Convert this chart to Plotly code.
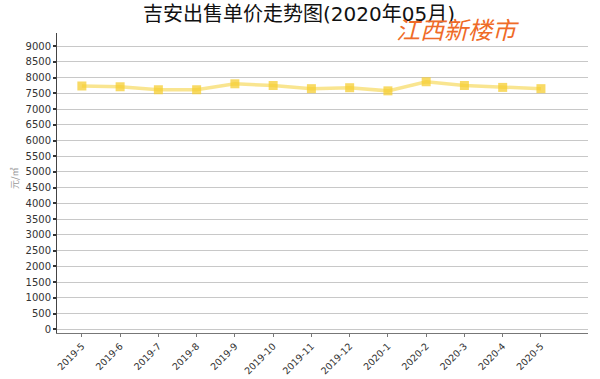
import plotly.graph_objects as go

months = ["2019-5", "2019-6", "2019-7", "2019-8", "2019-9", "2019-10", "2019-11",
          "2019-12", "2020-1", "2020-2", "2020-3", "2020-4", "2020-5"]
prices = [7735, 7710, 7615, 7615, 7805, 7750, 7650, 7680, 7580, 7870, 7750, 7690, 7650]
y_ticks = list(range(0, 9001, 500))

fig = go.Figure()
fig.add_trace(go.Scatter(
    x=list(range(len(months))), y=prices, mode="lines+markers",
    line=dict(color="rgba(245,212,70,0.6)", width=3.5),
    marker=dict(symbol="square", size=9, color="rgba(246,205,50,0.75)",
                line=dict(width=0)),
    hoverinfo="skip",
))

fig.update_layout(
    width=600, height=379,
    margin=dict(l=57, r=12, t=33, b=46, autoexpand=False),
    paper_bgcolor="white", plot_bgcolor="white",
    showlegend=False,
    font=dict(family="DejaVu Sans, Noto Sans CJK SC", color="#333", size=10),
    title=dict(text="吉安出售单价走势图(2020年05月)", x=299 / 600, xanchor="center",
               xref="container", yref="container",
               y=1 - 14 / 379, yanchor="middle",
               font=dict(size=20, color="#111", family="DejaVu Sans, Noto Sans CJK SC")),
    xaxis=dict(
        tickmode="array", tickvals=list(range(len(months))), ticktext=months,
        range=[-0.65, 13.23], tickangle=-45, showgrid=False, zeroline=False,
        showline=True, linecolor="#777", linewidth=1, automargin=False,
        ticks="outside", ticklen=3, tickcolor="#777",
        tickfont=dict(size=9.5, color="#333"),
    ),
    yaxis=dict(
        tickmode="array", tickvals=y_ticks, ticktext=[str(v) for v in y_ticks],
        range=[-120, 9420], showgrid=True, gridcolor="#c8c8c8", gridwidth=1,
        zeroline=False, showline=True, linecolor="#444", linewidth=1,
        automargin=False,
        ticks="outside", ticklen=3, tickwidth=2, tickcolor="#333",
        tickfont=dict(size=10, color="#333"),
    ),
)

fig.add_annotation(
    text="元/㎡", xref="paper", yref="paper", x=(15 - 57) / 531, y=(333 - 178) / 300,
    xanchor="center", yanchor="middle", showarrow=False, textangle=-90,
    font=dict(size=9, color="#999", family="Noto Sans CJK SC"),
)

fig.add_annotation(
    text="江西新楼市", xref="paper", yref="paper",
    x=(457 - 57) / 531, y=(333 - 29) / 300, xanchor="center", yanchor="middle",
    showarrow=False,
    font=dict(size=24, color="#ef6b28", family="Noto Sans CJK SC", style="italic"),
)

fig.write_html("out.html", config={"displayModeBar": False})

# remove the browser's default 8px body margin so the figure sits at the page origin
with open("out.html", encoding="utf-8") as f:
    html = f.read()
html = html.replace("<head>", "<head><style>html,body{margin:0;padding:0;overflow:hidden;}</style>", 1)
with open("out.html", "w", encoding="utf-8") as f:
    f.write(html)
